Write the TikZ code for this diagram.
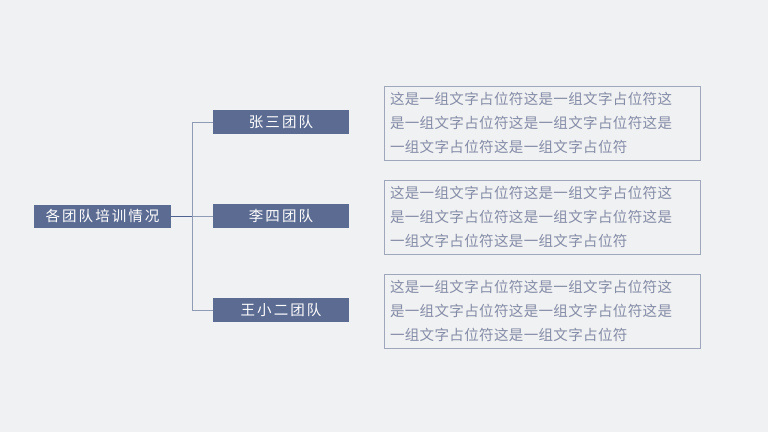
\documentclass[tikz,border=0pt]{standalone}
\usepackage{fontspec}
\setmainfont{Noto Sans CJK SC}
\definecolor{bgcol}{HTML}{F0F1F3}
\definecolor{boxcol}{HTML}{5B6B92}
\definecolor{linecol}{HTML}{909BB6}
\definecolor{rootline}{HTML}{4F6290}
\definecolor{txtcol}{HTML}{858CA6}
\definecolor{framecol}{HTML}{A0A7BC}
\tikzset{
  teambox/.style={fill=boxcol, draw=none, text=white, minimum width=136pt, minimum height=24pt, inner sep=0pt,
    font=\fontsize{14.5pt}{16pt}\selectfont\addfontfeature{LetterSpace=14}},
  descbox/.style={draw=framecol, line width=0.8pt, minimum width=316pt, minimum height=74pt, text width=304pt,
    align=left, inner sep=0pt, text=txtcol, font=\fontsize{14.5pt}{24pt}\selectfont\addfontfeature{LetterSpace=2.5}},
  branch/.style={draw=linecol, line width=0.9pt}
}
\newcommand{\fillertext}{这是一组文字占位符这是一组文字占位符这\\是一组文字占位符这是一组文字占位符这是\\一组文字占位符这是一组文字占位符}
\begin{document}
\begin{tikzpicture}[x=1pt,y=-1pt]
\fill[bgcol] (0,0) rectangle (768,432);
\useasboundingbox (0,0) rectangle (768,432);
% root and trunk
\node[teambox, minimum width=137pt, minimum height=23pt] (root) at (102.5,216) {各团队培训情况};
\coordinate (trunk) at (192,216);
\coordinate (trunktop) at (192,122);
\coordinate (trunkbot) at (192,310);
% teams
\node[teambox] (teamA) at (281,122) {张三团队};
\node[teambox] (teamB) at (281,216) {李四团队};
\node[teambox] (teamC) at (281,310) {王小二团队};
% descriptions
\node[descbox] (descA) at (542,123) {\fillertext};
\node[descbox] (descB) at (542,217) {\fillertext};
\node[descbox] (descC) at (542,311) {\fillertext};
% connectors
\draw[branch] (trunktop) -- (trunkbot);
\draw[branch] (trunktop) -- (teamA.west);
\draw[branch] (trunk) -- (teamB.west);
\draw[branch] (trunkbot) -- (teamC.west);
\draw[draw=rootline, line width=0.9pt] (root.east) -- (trunk);
\end{tikzpicture}
\end{document}
